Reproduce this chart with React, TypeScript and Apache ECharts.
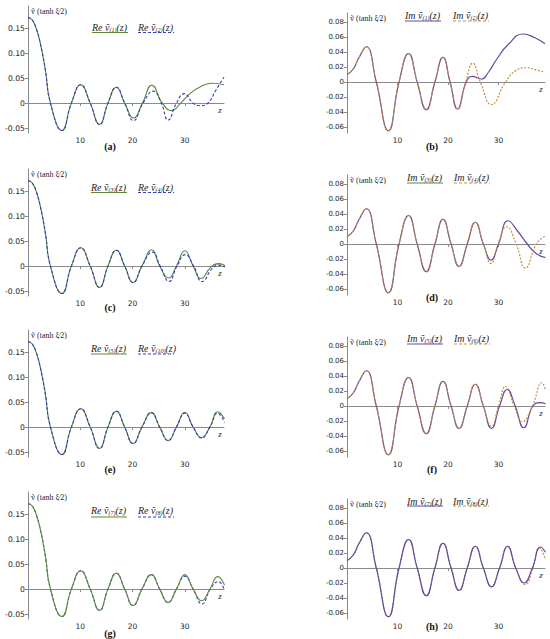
import React, { useEffect, useRef } from "react";
import * as echarts from "echarts";

type Pt = [number, number];

// ---------- data (z, value) ----------
const reBase: Pt[] = [
  [0, 0.172], [0.8, 0.167], [1.6, 0.149], [2.4, 0.118], [3.3, 0.068], [4.3, 0],
  [6.5, -0.055], [8.3, 0], [10.1, 0.037], [11.9, 0], [13.7, -0.043], [15.3, 0],
  [16.9, 0.032], [18.5, 0], [20.1, -0.033], [21.8, 0], [23.6, 0.029], [25.2, 0],
  [26.8, -0.027], [28.4, 0], [30.0, 0.029], [31.6, 0], [33.2, -0.022], [34.8, 0],
  [36.3, 0.030], [37.6, 0.018],
];
const imBase: Pt[] = [
  [0, 0.010], [1.2, 0.017], [2.4, 0.033], [3.8, 0.047], [5.8, 0], [8.2, -0.065],
  [10.3, 0], [12.2, 0.038], [13.9, 0], [15.7, -0.037], [17.4, 0], [19.0, 0.033],
  [20.6, 0], [22.2, -0.030], [23.8, 0], [25.4, 0.029], [27.0, 0], [28.6, -0.025],
  [30.2, 0], [31.8, 0.029], [33.4, 0], [35.1, -0.020], [36.7, 0], [38.3, 0.028],
  [39.3, 0.022],
];

const reA1Tail: Pt[] = [[20.2, -0.030], [21.9, 0], [23.7, 0.036], [25.7, 0], [27.5, -0.015], [29.2, 0], [31.0, 0.019], [33.0, 0.033], [35.3, 0.040], [37.5, 0.037]];
const reA2Tail: Pt[] = [[20.2, -0.035], [22.0, 0], [24.0, 0.024], [25.5, 0], [26.8, -0.034], [28.4, 0], [29.9, 0.019], [31.6, 0], [33.0, -0.005], [34.4, 0], [36.0, 0.027], [37.5, 0.052]];
const reC3Tail: Pt[] = [[23.7, 0.033], [25.2, 0], [26.9, -0.024], [28.4, 0], [30.0, 0.031], [31.6, 0], [33.1, -0.025], [35.0, -0.002], [36.5, 0.005], [37.7, 0.001]];
const reC4Tail: Pt[] = [[23.8, 0.028], [25.3, 0], [27.0, -0.031], [28.5, 0], [30.1, 0.023], [31.7, 0], [33.3, -0.031], [35.3, -0.004], [36.6, 0.002], [37.7, -0.002]];
const reE5Tail: Pt[] = [[30.0, 0.030], [31.6, 0], [33.2, -0.021], [34.8, 0], [36.3, 0.031], [37.6, 0.017]];
const reE10Tail: Pt[] = [[30.0, 0.028], [31.6, 0], [33.2, -0.022], [34.8, 0], [36.3, 0.028], [37.6, 0.009]];
const reG7Tail: Pt[] = [[30.0, 0.029], [31.6, 0], [33.2, -0.0235], [34.8, 0], [36.3, 0.025], [37.6, 0.008]];
const reG8Tail: Pt[] = [[30.0, 0.026], [31.6, 0], [33.3, -0.030], [34.9, 0], [36.4, 0.015], [37.6, -0.002]];

const imB1Tail: Pt[] = [[20.4, 0], [21.9, -0.036], [23.6, 0], [24.8, 0.0075], [26.6, 0.004], [28.0, 0.013], [29.6, 0.030], [31.9, 0.050], [34.9, 0.064], [37.2, 0.059], [39.2, 0.051]];
const imB2Tail: Pt[] = [[20.4, 0], [21.9, -0.036], [23.5, 0], [24.9, 0.025], [26.4, 0], [28.6, -0.030], [31.4, 0], [33.4, 0.015], [35.6, 0.019], [37.5, 0.016], [39.2, 0.013]];
const imD3Tail: Pt[] = [[28.5, -0.0215], [30.0, 0], [31.9, 0.031], [33.8, 0.017], [35.7, 0], [37.5, -0.013], [39.3, -0.018]];
const imD4Tail: Pt[] = [[28.5, -0.026], [29.9, 0], [31.6, 0.023], [33.5, 0], [35.3, -0.032], [37.5, 0], [39.3, 0.011]];
const imF5Tail: Pt[] = [[28.6, -0.030], [30.2, 0], [31.7, 0.022], [33.3, 0], [35.0, -0.029], [36.8, 0], [38.3, 0.0045], [39.3, 0.003]];
const imF6Tail: Pt[] = [[28.6, -0.027], [30.0, 0], [31.4, 0.026], [33.1, 0], [34.7, -0.021], [36.7, 0], [38.6, 0.031], [39.3, 0.021]];
const imH7Tail: Pt[] = [[35.1, -0.020], [36.7, 0], [38.3, 0.028], [39.3, 0.021]];
const imH8Tail: Pt[] = [[35.3, -0.022], [36.8, 0], [38.1, 0.027], [39.3, 0.011]];

const reTicks = [-0.05, 0, 0.05, 0.1, 0.15];
const imTicks = [-0.06, -0.04, -0.02, 0, 0.02, 0.04, 0.06, 0.08];
const zTicks = [10, 20, 30];
const panelLetters = ["a", "b", "c", "d", "e", "f", "g", "h"];
const subIndices = [["1", "2"], ["1", "2"], ["3", "4"], ["3", "4"], ["5", "10"], ["5", "6"], ["7", "8"], ["7", "8"]];

// ---------- styles ----------
const GREEN = "#5b8b3a";
const BLUE = "#3838cc";
const PURPLE = "#5f4aa0";
const ORANGE = "#c98f3e";
const AXIS = "#8a8a8a";
const TXT = "#262626";

const joinTail = (base: Pt[], tail: Pt[]): Pt[] => [
  ...base.filter((p) => p[0] < tail[0][0] - 0.3),
  ...tail,
];

type Panel = {
  kind: "re" | "im";
  top: number;
  title: [number, number];
  leg: [number, number, number, number]; // x1, x2, textY, lineY
  curves: Pt[][];
  colors: string[];
  legColors: string[];
  topFirst: boolean;
};

const panels: Panel[] = [
  { kind: "re", top: 6, title: [110, 146], leg: [92, 138, 27, 32.5], curves: [joinTail(reBase, reA1Tail), joinTail(reBase, reA2Tail)], colors: [GREEN, BLUE], legColors: [GREEN, BLUE], topFirst: false },
  { kind: "im", top: 13, title: [432, 146], leg: [405, 453, 15, 21], curves: [joinTail(imBase, imB1Tail), joinTail(imBase, imB2Tail)], colors: [PURPLE, ORANGE], legColors: [PURPLE, ORANGE], topFirst: false },
  { kind: "re", top: 169, title: [110, 307], leg: [91, 138, 187, 192.5], curves: [joinTail(reBase, reC3Tail), joinTail(reBase, reC4Tail)], colors: [GREEN, BLUE], legColors: [GREEN, BLUE], topFirst: false },
  { kind: "im", top: 175, title: [432, 297], leg: [407, 454, 177, 183], curves: [joinTail(imBase, imD3Tail), joinTail(imBase, imD4Tail)], colors: [PURPLE, ORANGE], legColors: [GREEN, ORANGE], topFirst: false },
  { kind: "re", top: 330, title: [110, 469], leg: [91, 138, 348, 354], curves: [joinTail(reBase, reE5Tail), joinTail(reBase, reE10Tail)], colors: [GREEN, BLUE], legColors: [GREEN, BLUE], topFirst: false },
  { kind: "im", top: 337, title: [432, 469], leg: [407, 454, 338, 344], curves: [joinTail(imBase, imF5Tail), joinTail(imBase, imF6Tail)], colors: [PURPLE, ORANGE], legColors: [PURPLE, ORANGE], topFirst: false },
  { kind: "re", top: 492, title: [110, 633], leg: [91, 138, 510, 517], curves: [joinTail(reBase, reG7Tail), joinTail(reBase, reG8Tail)], colors: [GREEN, BLUE], legColors: [GREEN, BLUE], topFirst: true },
  { kind: "im", top: 499, title: [432, 626], leg: [407, 453, 501, 506], curves: [joinTail(imBase, imH7Tail), joinTail(imBase, imH8Tail)], colors: [PURPLE, ORANGE], legColors: [PURPLE, ORANGE], topFirst: true },
];

const fmt = (v: number) => (v === 0 ? "0" : v.toFixed(2));

function buildOption() {
  const grid: any[] = [];
  const xAxis: any[] = [];
  const yAxis: any[] = [];
  const series: any[] = [];
  const graphic: any[] = [];

  panels.forEach((p, i) => {
    const re = p.kind === "re";
    grid.push(
      re
        ? { left: 28, top: p.top, width: 196, height: 127, containLabel: false }
        : { left: 347, top: p.top, width: 198, height: 120, containLabel: false }
    );
    xAxis.push({
      type: "value",
      gridIndex: i,
      min: 0,
      max: re ? 37.5 : 39.2,
      axisLine: { onZero: true, lineStyle: { color: AXIS, width: 1 } },
      axisTick: { show: true, customValues: zTicks, length: 3, lineStyle: { color: AXIS } },
      axisLabel: { customValues: zTicks, fontSize: 7.5, color: TXT, margin: 3, fontFamily: "DejaVu Sans" },
      splitLine: { show: false },
      name: "z",
      nameLocation: "end",
      nameGap: -4,
      nameTextStyle: { fontStyle: "italic", fontFamily: "Liberation Serif", fontSize: 9, color: TXT, align: "center", verticalAlign: "top", padding: [2, 0, 0, 0] },
    });
    yAxis.push({
      type: "value",
      gridIndex: i,
      min: re ? -0.06 : -0.068,
      max: re ? 0.195 : 0.092,
      axisLine: { show: true, onZero: false, lineStyle: { color: AXIS, width: 1 } },
      axisTick: { show: true, customValues: re ? reTicks : imTicks, length: 3, lineStyle: { color: AXIS } },
      axisLabel: { customValues: re ? reTicks : imTicks, formatter: fmt, fontSize: re ? 7.7 : 7, color: TXT, margin: 3, fontFamily: "DejaVu Sans" },
      splitLine: { show: false },
      name: "ṽ (tanh ξ⁄2)",
      nameLocation: "end",
      nameGap: -1,
      nameTextStyle: { fontFamily: "Liberation Serif", fontSize: 8, color: TXT, align: "left", verticalAlign: "top", padding: [0, 0, 0, 3] },
    });
    p.curves.forEach((data, k) => {
      const onTop = p.topFirst ? k === 0 : k === 1;
      const dash = k === 1 ? (re ? [3, 2] : [2, 1.5]) : "solid";
      series.push({
        type: "line",
        xAxisIndex: i,
        yAxisIndex: i,
        data,
        smooth: true,
        symbol: "none",
        silent: true,
        z: onTop ? 4 : 3,
        lineStyle: { color: p.colors[k], width: re ? 1.1 : 1.2, type: dash },
      });
    });

    // panel letter
    graphic.push({
      type: "text",
      x: p.title[0],
      y: p.title[1],
      style: { text: `(${panelLetters[i]})`, font: 'bold 10px "Liberation Serif"', fill: "#111", align: "center", verticalAlign: "middle" },
    });
    // legend (text with underline)
    const prefix = re ? "Re" : "Im";
    [0, 1].forEach((k) => {
      const x1 = p.leg[k];
      graphic.push({
        type: "text",
        x: x1,
        y: p.leg[2],
        style: {
          text: `{i|${prefix} ṽ}{s|(${subIndices[i][k]})}{i|(z)}`,
          rich: {
            i: { font: 'italic 10px "Liberation Serif"', fill: TXT, lineHeight: 11 },
            s: { font: 'italic 6px "Liberation Serif"', fill: TXT, verticalAlign: "bottom", lineHeight: 11 },
          },
          align: "left",
          verticalAlign: "middle",
        },
      });
      graphic.push({
        type: "line",
        shape: { x1, y1: p.leg[3], x2: x1 + 36, y2: p.leg[3] },
        style: { stroke: p.legColors[k], lineWidth: 1, lineDash: k === 1 ? [3, 2] : null },
      });
    });
  });

  return { animation: false, backgroundColor: "#ffffff", grid, xAxis, yAxis, series, graphic };
}

export default function App() {
  const ref = useRef<HTMLDivElement>(null);
  useEffect(() => {
    if (!ref.current) return;
    const chart = echarts.init(ref.current, undefined, { renderer: "svg" });
    chart.setOption(buildOption() as any);
    return () => chart.dispose();
  }, []);
  return (
    <div
      ref={ref}
      style={{ position: "fixed", left: 0, top: 0, width: 550, height: 639, background: "#fff" }}
    />
  );
}
